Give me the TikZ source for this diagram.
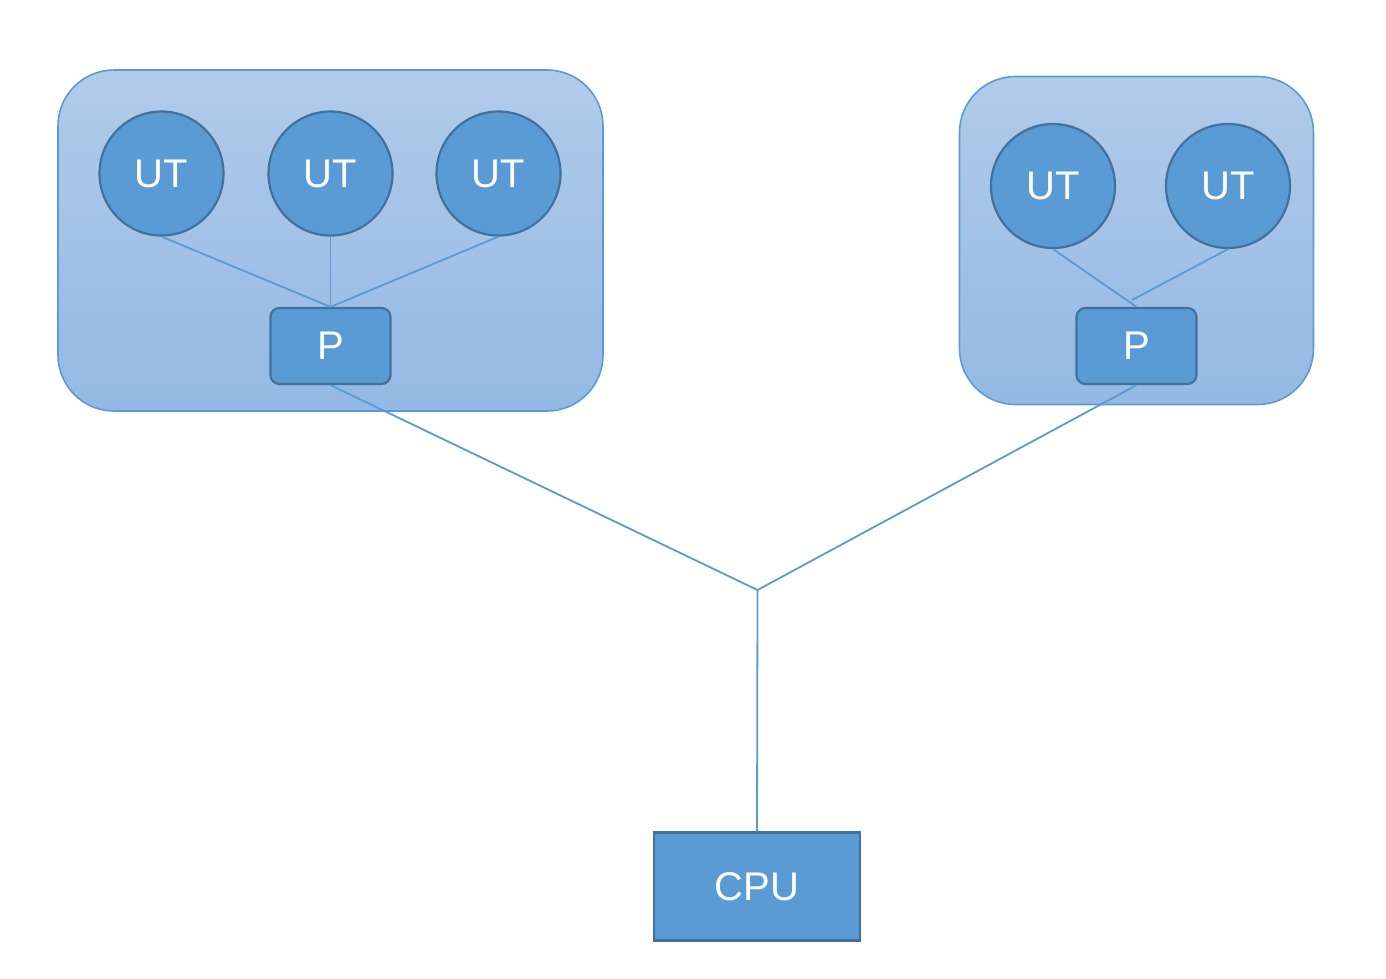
\documentclass[tikz,border=0pt]{standalone}
\usepackage{fontspec}
\setmainfont{Liberation Sans}
\definecolor{nodefill}{HTML}{5B9BD5}
\definecolor{nodeedge}{HTML}{41719C}
\definecolor{grptop}{RGB}{177,203,234}
\definecolor{grpbot}{RGB}{147,185,228}
\definecolor{wire}{HTML}{5B9BD5}
\begin{document}
\begin{tikzpicture}[x=1pt,y=-1pt,
  grp/.style={draw=wire,line width=1.6pt,rounded corners=56pt,top color=grptop,bottom color=grpbot,inner sep=0pt},
  ut/.style={circle,draw=nodeedge,fill=nodefill,line width=2.2pt,minimum size=124pt,inner sep=0pt,text=white,font=\fontsize{40}{48}\selectfont},
  pbox/.style={rectangle,rounded corners=9pt,draw=nodeedge,fill=nodefill,line width=2.2pt,minimum width=120pt,minimum height=76pt,inner sep=0pt,text=white,font=\fontsize{40}{48}\selectfont},
  cpubox/.style={rectangle,draw=nodeedge,fill=nodefill,line width=2.2pt,minimum width=206pt,minimum height=108pt,inner sep=0pt,text=white,font=\fontsize{40}{48}\selectfont},
  wireline/.style={draw=wire,line width=1.8pt}]
\useasboundingbox (0,0) rectangle (1386,978);
\fill[white] (0,0) rectangle (1386,978);
% groups
\node[grp,minimum width=545pt,minimum height=341pt] (g1) at (330.5,240.5) {};
\node[grp,minimum width=354pt,minimum height=328pt] (g2) at (1136.5,240.5) {};
% nodes
\node[ut] (u1) at (161.5,173.5) {UT};
\node[ut] (u2) at (330.5,173.5) {UT};
\node[ut] (u3) at (498.5,173.5) {UT};
\node[ut] (u5) at (1053,186) {UT};
\node[ut] (u6) at (1228,186) {UT};
\node[pbox] (p1) at (330.5,346) {P};
\node[pbox] (p2) at (1136.5,346) {P};
\node[cpubox] (cpu) at (757,886.5) {CPU};
\coordinate (j) at (757.5,590);
\coordinate (j2) at (1132,300);
% connectors
\path[wireline] (u1.south) -- (p1.north);
\path[wireline] (u2.south) -- (p1.north);
\path[wireline] (u3.south) -- (p1.north);
\path[wireline] (u5.south) -- (p2.north);
\path[wireline] (u6.south) -- (j2);
\path[wireline] (p1.south) -- (j);
\path[wireline] (p2.south) -- (j);
\path[wireline] (j) -- (cpu.north);
\end{tikzpicture}
\end{document}
